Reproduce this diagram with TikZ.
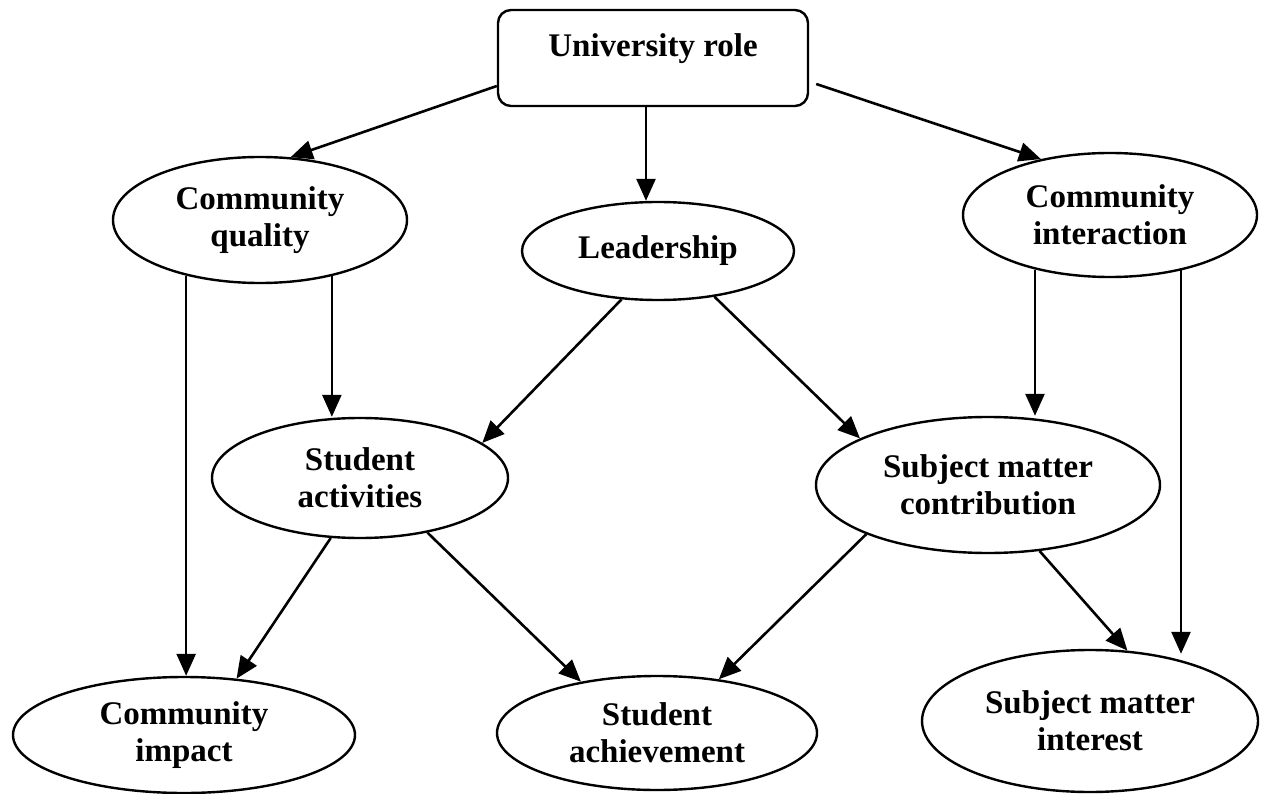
\documentclass[tikz,border=0pt]{standalone}
\usepackage{fontspec}
\setmainfont{Liberation Serif}
\usetikzlibrary{shapes.geometric,arrows.meta,calc}
\begin{document}
\begin{tikzpicture}[x=1pt,y=-1pt,
  every node/.style={font=\bfseries\fontsize{33}{37}\selectfont, align=center, inner sep=0pt},
  bubble/.style={draw, ellipse, line width=2.4pt, inner sep=0pt},
  rolebox/.style={draw, rectangle, rounded corners=13pt, line width=2.4pt,
    minimum width=310pt, minimum height=96pt},
  link/.style={line width=2.6pt, -{Triangle[length=22pt,width=19pt]}}]

\useasboundingbox (0,0) rectangle (1266,794);

% top box
\node[rolebox, label={[yshift=9pt]center:University role}] (uni) at (653,58) {};

% second row
\node[bubble, minimum width=294pt, minimum height=126pt] (cq) at (260,220) {Community\\quality};
\node[bubble, minimum width=272pt, minimum height=98pt] (lead) at (658,251) {Leadership};
\node[bubble, minimum width=294pt, minimum height=124pt] (ci) at (1110,215) {Community\\interaction};

% third row
\node[bubble, minimum width=296pt, minimum height=120pt] (sa) at (360,478) {Student\\activities};
\node[bubble, minimum width=344pt, minimum height=136pt] (smc) at (988,485) {Subject matter\\contribution};

% bottom row
\node[bubble, minimum width=342pt, minimum height=116pt] (cimp) at (184,735) {Community\\impact};
\node[bubble, minimum width=320pt, minimum height=114pt] (sach) at (657,733) {Student\\achievement};
\node[bubble, minimum width=336pt, minimum height=142pt] (smi) at (1090,721) {Subject matter\\interest};

% connectors
\coordinate (unidown) at ($(uni.south)+(-7,0)$);
\draw[link] ([yshift=-28pt]uni.west) -- (cq.64.5);
\draw[link] (unidown) -- (unidown |- lead.north);
\draw[link] ([xshift=7pt,yshift=-26pt]uni.east) -- (ci.141.3);

\draw[link] (cq.217.4) -- (cq.217.4 |- cimp.north);
\draw[link] (cq.322.6) -- (cq.322.6 |- sa.north);

\draw[link] (lead.233.1) -- (sa.16.5);
\draw[link] (lead.321.8) -- (smc.160.7);

\draw[link] (ci.216.5) -- (ci.216.5 |- smc.north);
\draw[link] (ci.322.7) -- ($(ci.322.7 |- smi.north)+(0,5)$);

\draw[link] (sa.244.6) -- (cimp.47.1);
\draw[link] (sa.321) -- (sach.146.6);

\draw[link] (smc.202.1) -- (sach.41.6);
\draw[link] (smc.308.7) -- (smi.62.5);
\end{tikzpicture}
\end{document}
